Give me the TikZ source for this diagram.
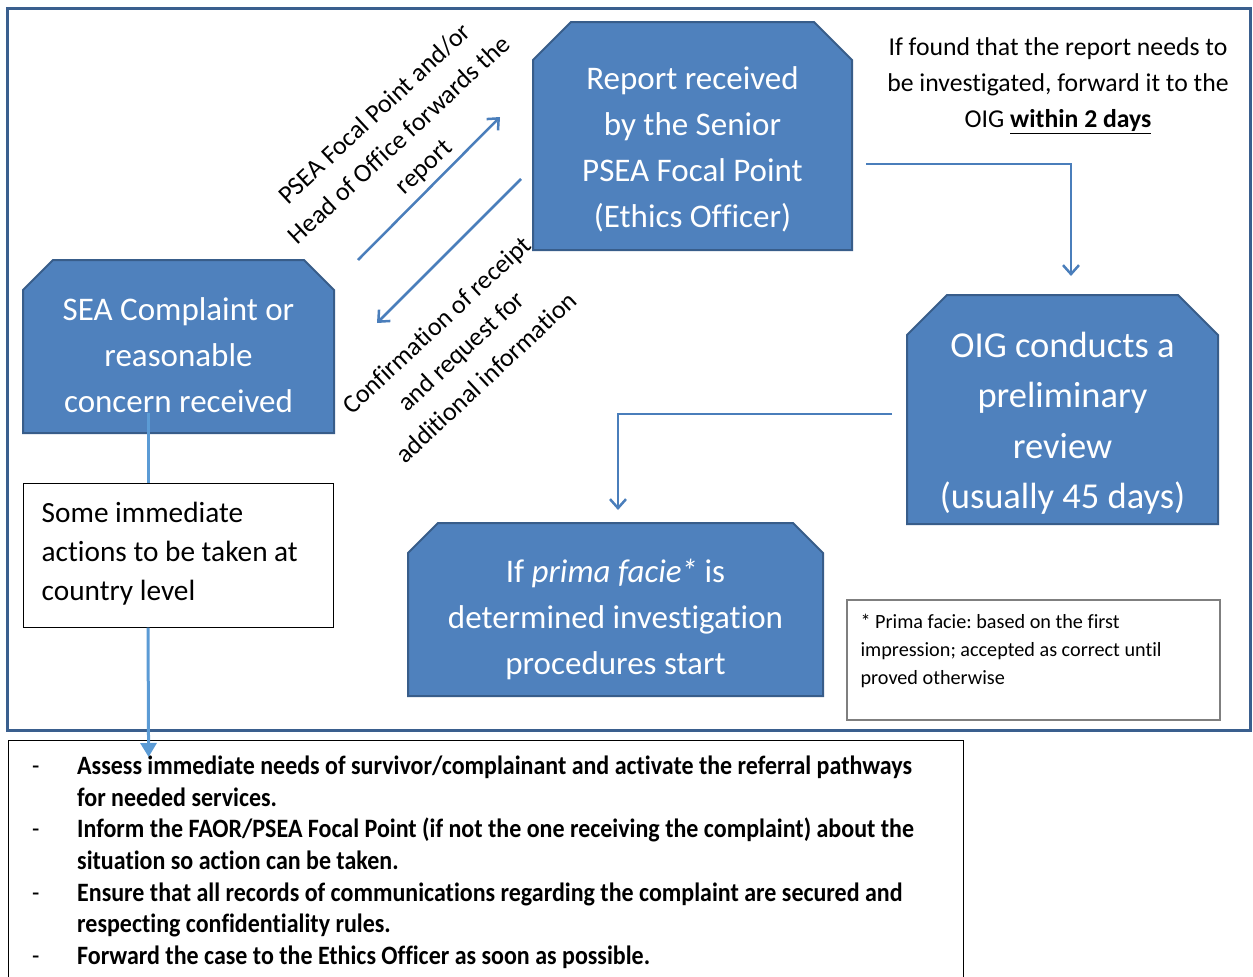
\documentclass[tikz,border=0pt]{standalone}
\usepackage{fontspec}
\setmainfont[Ligatures=NoCommon]{Carlito}
\newfontfamily\condfont[FakeStretch=0.905,Ligatures=NoCommon]{Carlito}
\usetikzlibrary{arrows.meta}
\definecolor{boxfill}{HTML}{4F81BD}
\definecolor{boxline}{HTML}{385D8A}
\definecolor{arrowc}{HTML}{4A7EBB}
\definecolor{lightc}{HTML}{5B9BD5}
\definecolor{framec}{HTML}{3A5F8E}
\definecolor{footc}{HTML}{7F7F7F}
\tikzset{
  boxgeom/.style={rectangle, inner sep=0pt, outer sep=0pt},
  snipfill/.style={fill=boxfill, draw=boxline, line width=2pt, line join=miter},
  boxtxt/.style={text=white, align=center, inner sep=0pt},
  plaintxt/.style={text=black, inner sep=0pt},
  conn/.style={draw=arrowc, line width=2.5pt, -{Straight Barb[length=9pt,width=16pt]}},
  lightconn/.style={draw=lightc, line width=3pt},
}
\newcommand\snipshape[2]{%
  \path[snipfill] (#1.south west) -- ([yshift=-#2pt]#1.north west) -- ([xshift=#2pt]#1.north west)
    -- ([xshift=-#2pt]#1.north east) -- ([yshift=-#2pt]#1.north east) -- (#1.south east) -- cycle;}
\frenchspacing
\begin{document}
\begin{tikzpicture}[x=1pt,y=-1pt]
\useasboundingbox (0,0) rectangle (1253,977);
\fill[white] (0,0) rectangle (1253,977);
\draw[framec, line width=3pt] (7.5,8) rectangle (1250,730);

% box geometry
\node[boxgeom, minimum width=311pt, minimum height=173pt] (A) at (178.5,346.5) {};
\node[boxgeom, minimum width=319pt, minimum height=228pt] (B) at (692.5,136) {};
\node[boxgeom, minimum width=311pt, minimum height=229pt] (C) at (1062.5,409.5) {};
\node[boxgeom, minimum width=415pt, minimum height=173pt] (D) at (615.5,609.5) {};
\snipshape{A}{30}
\snipshape{B}{38}
\snipshape{C}{40}
\snipshape{D}{30}

\node[draw=black, line width=1pt, minimum width=310pt, minimum height=144pt, inner sep=0pt] (E) at (178,555) {};
\node[draw=footc, line width=1.2pt, minimum width=373pt, minimum height=120pt, inner sep=0pt] (F) at (1033.5,660) {};
\node[draw=black, line width=1.2pt, minimum width=955pt, minimum height=260pt, inner sep=0pt, anchor=north west] (G) at (8,740) {};

% box texts
\node[boxtxt, font=\fontsize{33}{46}\selectfont] (At) at ([yshift=-8.5pt]A.center) {SEA Complaint or\\reasonable\\concern received};
\node[boxtxt, font=\fontsize{33}{46}\selectfont] (Bt) at ([yshift=-13pt]B.center) {Report received\\by the Senior\\PSEA Focal Point\\(Ethics Officer)};
\node[boxtxt, font=\fontsize{36.5}{50.5}\selectfont] (Ct) at ([yshift=-14pt]C.center) {OIG conducts a\\preliminary\\review\\(usually 45 days)};
\node[boxtxt, font=\fontsize{33}{46}\selectfont] (Dt) at ([yshift=-10pt]D.center) {If \textit{prima facie}\kern-1pt\textit{*} is\\determined investigation\\procedures start};

\node[plaintxt, align=left, anchor=west, font=\fontsize{29.3}{39}\selectfont] (Et) at ([xshift=19pt,yshift=1pt]E.west) {Some immediate\\actions to be taken at\\country level};
\node[plaintxt, align=left, anchor=west, font=\fontsize{20.2}{28}\selectfont] (Ft) at ([xshift=14pt,yshift=9pt]F.west) {* Prima facie: based on the first\\impression; accepted as correct until\\proved otherwise};

\node[plaintxt, align=center, font=\fontsize{25.7}{36}\selectfont] (T) at (1058,86) {If found that the report needs to\\be investigated, forward it to the\\OIG \underline{\textbf{within 2 days}}};

\node[plaintxt, align=center, rotate=43, font=\fontsize{26}{36}\selectfont] (L1) at (400,141) {PSEA Focal Point and/or\\Head of Office forwards the\\report};
\node[plaintxt, align=center, rotate=43, font=\fontsize{26}{36}\selectfont] (L2) at (461,351) {Confirmation of receipt\\and request for\\additional information};

\node[plaintxt, anchor=north west, font=\condfont\fontsize{26.5}{31.7}\selectfont] (Gt) at ([xshift=24pt,yshift=-12pt]G.north west) {%
\begin{tabular}{@{}p{45pt}@{}l@{}}
{\mdseries -} & \bfseries Assess immediate needs of survivor/complainant and activate the referral pathways\\
 & \bfseries for needed services.\\
{\mdseries -} & \bfseries Inform the FAOR/PSEA Focal Point (if not the one receiving the complaint) about the\\
 & \bfseries situation so action can be taken.\\
{\mdseries -} & \bfseries Ensure that all records of communications regarding the complaint are secured and\\
 & \bfseries respecting confidentiality rules.\\
{\mdseries -} & \bfseries Forward the case to the Ethics Officer as soon as possible.
\end{tabular}};

% connectors
\draw[lightconn] ([xshift=-30.5pt,yshift=20pt]A.south) -- ([xshift=-30pt]E.north);
\draw[lightconn, -{Triangle[width=16pt,length=14pt]}] ([xshift=-30pt]E.south) -- ([xshift=-337.5pt,yshift=-17pt]G.north);
\draw[conn] ([xshift=24pt]A.north east) -- ([xshift=-33pt,yshift=-95pt]B.north west);
\draw[conn] ([xshift=-12pt,yshift=-43pt]B.west) -- ([xshift=43pt,yshift=-63pt]A.north east);
\draw[conn] ([xshift=14pt,yshift=-28pt]B.east) -| ([xshift=8.5pt,yshift=19pt]C.north);
\draw[conn] ([xshift=-15pt,yshift=-4.5pt]C.west) -| ([xshift=2.5pt,yshift=13pt]D.north);
\end{tikzpicture}
\end{document}
